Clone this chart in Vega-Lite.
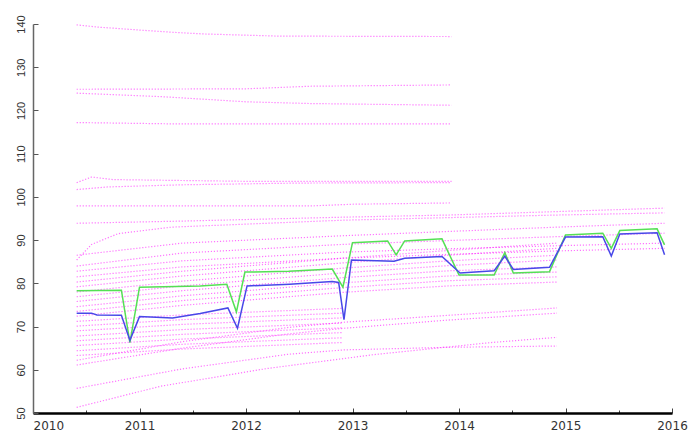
{
  "$schema": "https://vega.github.io/schema/vega-lite/v6.json",
  "width": 639,
  "height": 389,
  "autosize": {"type": "none"},
  "padding": {"left": 33, "top": 24, "right": 23, "bottom": 19},
  "background": "white",
  "config": {"view": {"stroke": null}, "axis": {"grid": false, "title": null}},
  "data": {"values": [
    {"g":"m","s":"A1","t":2010.41,"v":139.8},{"g":"m","s":"A1","t":2010.6,"v":139.3},{"g":"m","s":"A1","t":2011.0,"v":138.6},{"g":"m","s":"A1","t":2011.3,"v":138.1},{"g":"m","s":"A1","t":2011.6,"v":137.7},{"g":"m","s":"A1","t":2012.3,"v":137.2},{"g":"m","s":"A1","t":2013.93,"v":137.1},
    {"g":"m","s":"A2","t":2010.41,"v":124.9},{"g":"m","s":"A2","t":2012.0,"v":125.0},{"g":"m","s":"A2","t":2012.6,"v":125.6},{"g":"m","s":"A2","t":2013.93,"v":125.9},
    {"g":"m","s":"A3","t":2010.41,"v":124.0},{"g":"m","s":"A3","t":2011.2,"v":123.2},{"g":"m","s":"A3","t":2011.6,"v":122.6},{"g":"m","s":"A3","t":2012.0,"v":122.0},{"g":"m","s":"A3","t":2012.6,"v":121.6},{"g":"m","s":"A3","t":2013.93,"v":121.2},
    {"g":"m","s":"A4","t":2010.41,"v":117.2},{"g":"m","s":"A4","t":2011.3,"v":116.9},{"g":"m","s":"A4","t":2013.93,"v":116.9},
    {"g":"m","s":"A5","t":2010.41,"v":103.3},{"g":"m","s":"A5","t":2010.55,"v":104.6},{"g":"m","s":"A5","t":2010.75,"v":104.0},{"g":"m","s":"A5","t":2012.0,"v":103.6},{"g":"m","s":"A5","t":2013.93,"v":103.6},
    {"g":"m","s":"A6","t":2010.41,"v":101.7},{"g":"m","s":"A6","t":2010.7,"v":102.3},{"g":"m","s":"A6","t":2011.4,"v":102.8},{"g":"m","s":"A6","t":2012.5,"v":103.2},{"g":"m","s":"A6","t":2013.93,"v":103.3},
    {"g":"m","s":"A7","t":2010.41,"v":97.9},{"g":"m","s":"A7","t":2012.6,"v":97.9},{"g":"m","s":"A7","t":2013.0,"v":98.3},{"g":"m","s":"A7","t":2013.93,"v":98.6},
    {"g":"m","s":"U1","t":2010.41,"v":93.9},{"g":"m","s":"U1","t":2011.4,"v":94.4},{"g":"m","s":"U1","t":2012.9,"v":95.3},{"g":"m","s":"U1","t":2013.9,"v":95.8},{"g":"m","s":"U1","t":2014.92,"v":96.6},{"g":"m","s":"U1","t":2015.93,"v":97.4},
    {"g":"m","s":"U2","t":2010.41,"v":85.4},{"g":"m","s":"U2","t":2010.55,"v":89.0},{"g":"m","s":"U2","t":2010.8,"v":91.5},{"g":"m","s":"U2","t":2011.3,"v":93.0},{"g":"m","s":"U2","t":2012.3,"v":94.0},{"g":"m","s":"U2","t":2012.9,"v":94.6},{"g":"m","s":"U2","t":2013.9,"v":95.2},{"g":"m","s":"U2","t":2014.92,"v":95.8},{"g":"m","s":"U2","t":2015.93,"v":96.3},
    {"g":"m","s":"U3","t":2010.41,"v":86.5},{"g":"m","s":"U3","t":2011.4,"v":89.3},{"g":"m","s":"U3","t":2012.9,"v":91.0},{"g":"m","s":"U3","t":2013.9,"v":92.0},{"g":"m","s":"U3","t":2014.92,"v":93.0},{"g":"m","s":"U3","t":2015.93,"v":93.9},
    {"g":"m","s":"U4","t":2010.41,"v":84.0},{"g":"m","s":"U4","t":2011.4,"v":87.0},{"g":"m","s":"U4","t":2012.9,"v":89.0},{"g":"m","s":"U4","t":2013.9,"v":89.9},{"g":"m","s":"U4","t":2014.92,"v":90.8},{"g":"m","s":"U4","t":2015.93,"v":91.6},
    {"g":"m","s":"U5","t":2010.41,"v":82.8},{"g":"m","s":"U5","t":2011.4,"v":85.2},{"g":"m","s":"U5","t":2012.9,"v":87.2},{"g":"m","s":"U5","t":2013.9,"v":88.0},{"g":"m","s":"U5","t":2014.92,"v":88.7},{"g":"m","s":"U5","t":2015.93,"v":89.3},
    {"g":"m","s":"U6","t":2010.41,"v":81.5},{"g":"m","s":"U6","t":2011.4,"v":83.8},{"g":"m","s":"U6","t":2012.9,"v":85.8},{"g":"m","s":"U6","t":2013.9,"v":86.7},{"g":"m","s":"U6","t":2014.92,"v":87.5},{"g":"m","s":"U6","t":2015.93,"v":88.1},
    {"g":"m","s":"M1","t":2010.41,"v":80.3},{"g":"m","s":"M1","t":2011.4,"v":82.8},{"g":"m","s":"M1","t":2012.9,"v":85.8},{"g":"m","s":"M1","t":2013.9,"v":87.6},{"g":"m","s":"M1","t":2014.92,"v":89.3},
    {"g":"m","s":"M2","t":2010.41,"v":79.2},{"g":"m","s":"M2","t":2011.4,"v":81.7},{"g":"m","s":"M2","t":2012.9,"v":84.7},{"g":"m","s":"M2","t":2013.9,"v":86.5},{"g":"m","s":"M2","t":2014.92,"v":88.1},
    {"g":"m","s":"M3","t":2010.41,"v":78.0},{"g":"m","s":"M3","t":2011.4,"v":80.5},{"g":"m","s":"M3","t":2012.9,"v":83.5},{"g":"m","s":"M3","t":2013.9,"v":85.2},{"g":"m","s":"M3","t":2014.92,"v":86.5},
    {"g":"m","s":"M4","t":2010.41,"v":76.9},{"g":"m","s":"M4","t":2011.4,"v":79.4},{"g":"m","s":"M4","t":2012.9,"v":82.4},{"g":"m","s":"M4","t":2013.9,"v":84.1},{"g":"m","s":"M4","t":2014.92,"v":85.4},
    {"g":"m","s":"M5","t":2010.41,"v":75.8},{"g":"m","s":"M5","t":2011.4,"v":78.3},{"g":"m","s":"M5","t":2012.9,"v":81.3},{"g":"m","s":"M5","t":2013.9,"v":82.9},{"g":"m","s":"M5","t":2014.92,"v":83.8},
    {"g":"m","s":"M6","t":2010.41,"v":74.6},{"g":"m","s":"M6","t":2011.4,"v":77.1},{"g":"m","s":"M6","t":2012.9,"v":80.1},{"g":"m","s":"M6","t":2013.9,"v":81.7},{"g":"m","s":"M6","t":2014.92,"v":82.6},
    {"g":"m","s":"M7","t":2010.41,"v":73.5},{"g":"m","s":"M7","t":2011.4,"v":76.0},{"g":"m","s":"M7","t":2012.9,"v":79.0},{"g":"m","s":"M7","t":2013.9,"v":80.6},{"g":"m","s":"M7","t":2014.92,"v":81.5},
    {"g":"m","s":"M8","t":2010.41,"v":72.4},{"g":"m","s":"M8","t":2011.4,"v":74.9},{"g":"m","s":"M8","t":2012.9,"v":77.9},{"g":"m","s":"M8","t":2013.9,"v":79.4},{"g":"m","s":"M8","t":2014.92,"v":80.3},
    {"g":"m","s":"E1","t":2010.41,"v":71.2},{"g":"m","s":"E1","t":2011.4,"v":72.7},{"g":"m","s":"E1","t":2012.9,"v":74.2},
    {"g":"m","s":"E2","t":2010.41,"v":70.1},{"g":"m","s":"E2","t":2011.4,"v":71.6},{"g":"m","s":"E2","t":2012.9,"v":73.1},
    {"g":"m","s":"E3","t":2010.41,"v":69.0},{"g":"m","s":"E3","t":2011.4,"v":70.5},{"g":"m","s":"E3","t":2012.9,"v":72.0},
    {"g":"m","s":"E4","t":2010.41,"v":67.8},{"g":"m","s":"E4","t":2011.4,"v":69.3},{"g":"m","s":"E4","t":2012.9,"v":70.8},
    {"g":"m","s":"E5","t":2010.41,"v":66.7},{"g":"m","s":"E5","t":2011.4,"v":68.2},{"g":"m","s":"E5","t":2012.9,"v":69.7},
    {"g":"m","s":"E6","t":2010.41,"v":65.6},{"g":"m","s":"E6","t":2011.4,"v":67.1},{"g":"m","s":"E6","t":2012.9,"v":68.6},
    {"g":"m","s":"E7","t":2010.41,"v":64.4},{"g":"m","s":"E7","t":2011.4,"v":65.9},{"g":"m","s":"E7","t":2012.9,"v":67.4},
    {"g":"m","s":"E8","t":2010.41,"v":63.3},{"g":"m","s":"E8","t":2011.4,"v":64.8},{"g":"m","s":"E8","t":2012.9,"v":66.3},
    {"g":"m","s":"L3","t":2010.41,"v":62.2},{"g":"m","s":"L3","t":2011.4,"v":66.5},{"g":"m","s":"L3","t":2012.4,"v":69.8},{"g":"m","s":"L3","t":2012.92,"v":71.0},{"g":"m","s":"L3","t":2013.9,"v":72.6},{"g":"m","s":"L3","t":2014.92,"v":74.3},
    {"g":"m","s":"L4","t":2010.41,"v":61.1},{"g":"m","s":"L4","t":2011.4,"v":65.0},{"g":"m","s":"L4","t":2012.4,"v":68.3},{"g":"m","s":"L4","t":2012.92,"v":69.6},{"g":"m","s":"L4","t":2013.9,"v":71.5},{"g":"m","s":"L4","t":2014.92,"v":73.1},
    {"g":"m","s":"L2","t":2010.41,"v":55.7},{"g":"m","s":"L2","t":2011.4,"v":60.2},{"g":"m","s":"L2","t":2012.4,"v":63.6},{"g":"m","s":"L2","t":2012.92,"v":64.6},{"g":"m","s":"L2","t":2013.9,"v":65.2},{"g":"m","s":"L2","t":2014.92,"v":65.5},
    {"g":"m","s":"L1","t":2010.41,"v":51.3},{"g":"m","s":"L1","t":2011.2,"v":56.2},{"g":"m","s":"L1","t":2012.2,"v":60.3},{"g":"m","s":"L1","t":2013.2,"v":63.5},{"g":"m","s":"L1","t":2014.3,"v":66.3},{"g":"m","s":"L1","t":2014.92,"v":67.5},
    {"g":"green","s":"green","t":2010.41,"v":78.3},{"g":"green","s":"green","t":2010.83,"v":78.4},{"g":"green","s":"green","t":2010.91,"v":66.3},{"g":"green","s":"green","t":2011.0,"v":79.1},{"g":"green","s":"green","t":2011.57,"v":79.4},{"g":"green","s":"green","t":2011.82,"v":79.8},{"g":"green","s":"green","t":2011.91,"v":73.4},{"g":"green","s":"green","t":2011.99,"v":82.6},{"g":"green","s":"green","t":2012.4,"v":82.8},{"g":"green","s":"green","t":2012.81,"v":83.3},{"g":"green","s":"green","t":2012.91,"v":79.1},{"g":"green","s":"green","t":2013.0,"v":89.4},{"g":"green","s":"green","t":2013.33,"v":89.8},{"g":"green","s":"green","t":2013.41,"v":86.6},{"g":"green","s":"green","t":2013.49,"v":89.8},{"g":"green","s":"green","t":2013.84,"v":90.3},{"g":"green","s":"green","t":2014.0,"v":81.9},{"g":"green","s":"green","t":2014.33,"v":81.9},{"g":"green","s":"green","t":2014.43,"v":87.1},{"g":"green","s":"green","t":2014.51,"v":82.4},{"g":"green","s":"green","t":2014.85,"v":82.7},{"g":"green","s":"green","t":2015.0,"v":91.2},{"g":"green","s":"green","t":2015.35,"v":91.6},{"g":"green","s":"green","t":2015.43,"v":88.1},{"g":"green","s":"green","t":2015.51,"v":92.2},{"g":"green","s":"green","t":2015.86,"v":92.6},{"g":"green","s":"green","t":2015.93,"v":88.9},
    {"g":"blue","s":"blue","t":2010.41,"v":73.1},{"g":"blue","s":"blue","t":2010.55,"v":73.1},{"g":"blue","s":"blue","t":2010.6,"v":72.7},{"g":"blue","s":"blue","t":2010.83,"v":72.6},{"g":"blue","s":"blue","t":2010.91,"v":66.8},{"g":"blue","s":"blue","t":2011.0,"v":72.3},{"g":"blue","s":"blue","t":2011.31,"v":72.0},{"g":"blue","s":"blue","t":2011.57,"v":73.0},{"g":"blue","s":"blue","t":2011.83,"v":74.3},{"g":"blue","s":"blue","t":2011.92,"v":69.6},{"g":"blue","s":"blue","t":2012.01,"v":79.4},{"g":"blue","s":"blue","t":2012.41,"v":79.8},{"g":"blue","s":"blue","t":2012.81,"v":80.4},{"g":"blue","s":"blue","t":2012.87,"v":80.2},{"g":"blue","s":"blue","t":2012.92,"v":71.6},{"g":"blue","s":"blue","t":2012.99,"v":85.4},{"g":"blue","s":"blue","t":2013.39,"v":85.1},{"g":"blue","s":"blue","t":2013.49,"v":85.8},{"g":"blue","s":"blue","t":2013.84,"v":86.2},{"g":"blue","s":"blue","t":2014.01,"v":82.4},{"g":"blue","s":"blue","t":2014.33,"v":82.9},{"g":"blue","s":"blue","t":2014.43,"v":86.3},{"g":"blue","s":"blue","t":2014.51,"v":83.2},{"g":"blue","s":"blue","t":2014.85,"v":83.7},{"g":"blue","s":"blue","t":2015.0,"v":90.7},{"g":"blue","s":"blue","t":2015.35,"v":90.8},{"g":"blue","s":"blue","t":2015.43,"v":86.3},{"g":"blue","s":"blue","t":2015.51,"v":91.4},{"g":"blue","s":"blue","t":2015.86,"v":91.7},{"g":"blue","s":"blue","t":2015.93,"v":86.6}
  ]},
  "encoding": {
    "x": {
      "field": "t", "type": "quantitative",
      "scale": {"domain": [2010, 2016], "nice": false, "zero": false},
      "axis": {
        "values": [2010, 2010.5, 2011, 2011.5, 2012, 2012.5, 2013, 2013.5, 2014, 2014.5, 2015, 2015.5, 2016],
        "labelExpr": "datum.value % 1 == 0 ? format(datum.value, 'd') : ''",
        "tickSize": {"condition": {"test": "datum.value % 1 != 0", "value": -3}, "value": -5},
        "labelPadding": 12,
        "labelBaseline": "top",
        "labelAlign": {"condition": {"test": "datum.value == 2010", "value": "left"}, "value": "center"},
        "labelFlush": false,
        "labelOverlap": false,
        "domainColor": "#000000",
        "domainWidth": 2.5,
        "tickColor": "#444444",
        "tickWidth": 1,
        "labelFont": "DejaVu Sans",
        "labelFontSize": 12,
        "labelLineHeight": 12,
        "labelColor": "#333333"
      }
    },
    "y": {
      "field": "v", "type": "quantitative",
      "scale": {"domain": [50, 140], "nice": false, "zero": false},
      "axis": {
        "values": [50, 60, 70, 80, 90, 100, 110, 120, 130, 140],
        "labelAngle": 270,
        "labelAlign": "center",
        "labelBaseline": "bottom",
        "tickSize": -5,
        "labelPadding": 12,
        "labelFlush": false,
        "labelOverlap": false,
        "domainColor": "#666666",
        "domainWidth": 1.5,
        "tickColor": "#555555",
        "labelFont": "Liberation Sans",
        "labelFontSize": 11,
        "labelColor": "#333333"
      }
    }
  },
  "layer": [
    {"transform": [{"filter": "datum.g == 'm'"}], "mark": {"type": "line", "color": "#ff00ff", "strokeWidth": 1.2, "strokeDash": [1.2, 1.8], "opacity": 0.55}, "encoding": {"detail": {"field": "s"}}},
    {"transform": [{"filter": "datum.g == 'green'"}], "mark": {"type": "line", "color": "#55e055", "strokeWidth": 1.5}},
    {"transform": [{"filter": "datum.g == 'blue'"}], "mark": {"type": "line", "color": "#4848e8", "strokeWidth": 1.5}}
  ]
}
